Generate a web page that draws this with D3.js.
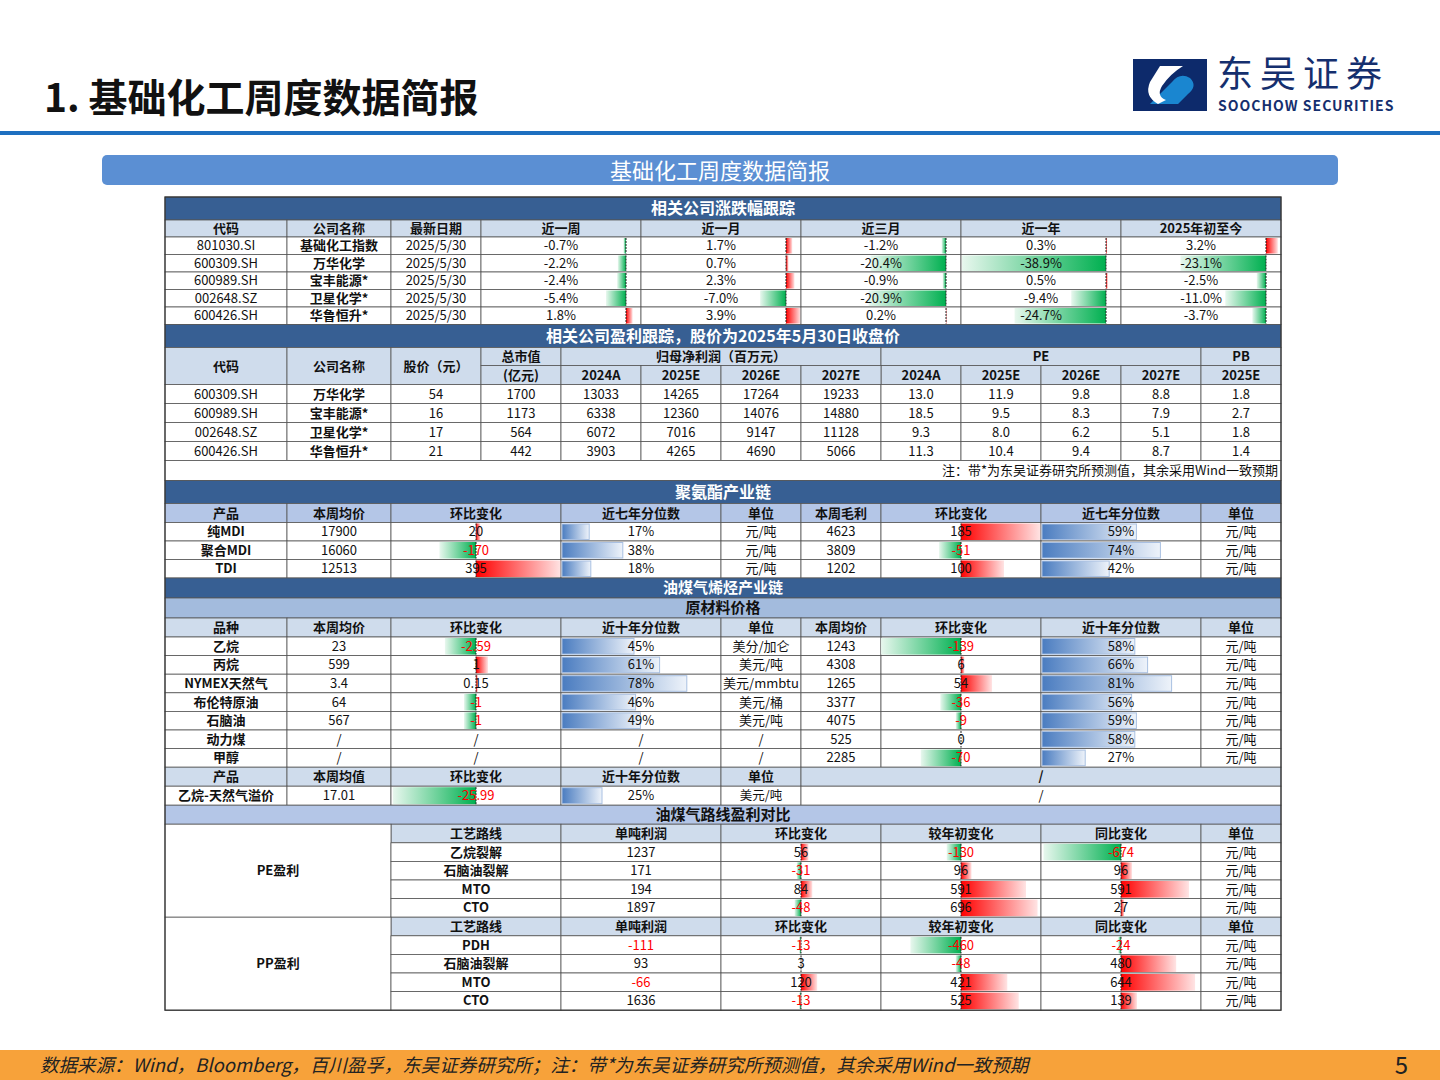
<!DOCTYPE html>
<html><head><meta charset="utf-8">
<script src="https://cdn.jsdelivr.net/npm/d3@7"></script>
<style>body{margin:0;background:#fff}text{font-family:"Noto Sans CJK SC","Noto Sans",sans-serif}</style>
</head><body>
<script>
// ---------- data ----------
var retCodes = ["801030.SI","600309.SH","600989.SH","002648.SZ","600426.SH"];
var retNames = ["基础化工指数","万华化学","宝丰能源*","卫星化学*","华鲁恒升*"];
var retDates = ["2025/5/30","2025/5/30","2025/5/30","2025/5/30","2025/5/30"];
var retPeriods = ["近一周","近一月","近三月","近一年","2025年初至今"];
var returns = [
  [-0.7, 1.7, -1.2, 0.3, 3.2],
  [-2.2, 0.7, -20.4, -38.9, -23.1],
  [-2.4, 2.3, -0.9, 0.5, -2.5],
  [-5.4, -7.0, -20.9, -9.4, -11.0],
  [1.8, 3.9, 0.2, -24.7, -3.7]
];

var valCodes = ["600309.SH","600989.SH","002648.SZ","600426.SH"];
var valNames = ["万华化学","宝丰能源*","卫星化学*","华鲁恒升*"];
var valPrice = [54,16,17,21];
var valMktCap = [1700,1173,564,442];
var years = ["2024A","2025E","2026E","2027E"];
var netProfit = [[13033,14265,17264,19233],[6338,12360,14076,14880],[6072,7016,9147,11128],[3903,4265,4690,5066]];
var peVals = [[13.0,11.9,9.8,8.8],[18.5,9.5,8.3,7.9],[9.3,8.0,6.2,5.1],[11.3,10.4,9.4,8.7]];
var pbVals = [1.8,2.7,1.8,1.4];

var puProducts = ["纯MDI","聚合MDI","TDI"];
var puPrice = [17900,16060,12513];
var puChg = [20,-170,395];
var puPct = [0.17,0.38,0.18];
var puMargin = [4623,3809,1202];
var puMarginChg = [185,-51,100];
var puMarginPct = [0.59,0.74,0.42];

var rawItems = ["乙烷","丙烷","NYMEX天然气","布伦特原油","石脑油","动力煤","甲醇"];
var rawPrice = [23,599,3.4,64,567,null,null];
var rawChg = [-2.59,1,0.15,-1,-1,null,null];
var rawPct = [0.45,0.61,0.78,0.46,0.49,null,null];
var rawUnit = ["美分/加仑","美元/吨","美元/mmbtu","美元/桶","美元/吨","/","/"];
var rawPrice2 = [1243,4308,1265,3377,4075,525,2285];
var rawChg2 = [-139,6,54,-36,-9,0,-70];
var rawPct2 = [0.58,0.66,0.81,0.56,0.59,0.58,0.27];

var spreadRow = {name:"乙烷-天然气溢价", value:"17.01", chg:-25.99, pct:0.25, unit:"美元/吨"};

var peRoutes = ["乙烷裂解","石脑油裂解","MTO","CTO"];
var peProfit = [1237,171,194,1897];
var peChg = [56,-31,84,-48];
var peYtd = [-130,96,591,696];
var peYoy = [-674,96,591,27];
var ppRoutes = ["PDH","石脑油裂解","MTO","CTO"];
var ppProfit = [-111,93,-66,1636];
var ppChg = [-13,3,120,-13];
var ppYtd = [-460,-48,421,525];
var ppYoy = [-24,480,644,139];

// ---------- layout ----------
var X = [165,287,391,481,561,641,721,801,881,961,1041,1121,1201,1281];
var DARK = "#375f93", HEAD = "#cfdcec", HEAD2 = "#b4c6e7", SUB = "#a3bbdd";

var svg = d3.select("body").append("svg").attr("width",1440).attr("height",1080);
var defs = svg.append("defs");
function grad(id, c1, c2, rev) {
  var g = defs.append("linearGradient").attr("id", id)
    .attr("x1", rev ? 1 : 0).attr("x2", rev ? 0 : 1).attr("y1",0).attr("y2",0);
  g.append("stop").attr("offset","0%").attr("stop-color",c1);
  g.append("stop").attr("offset","100%").attr("stop-color",c2);
}
grad("gRed","#ff0000","#ffe4e4",false);
grad("gGreen","#00b050","#e8f7ee",true);
grad("gBlue","#4a7cc0","#eef3fa",false);

var yCur = 197;
function row(h) { var r = [yCur, yCur + h]; yCur += h; return r; }

function cell(c0, c1, r, txt, o) {
  o = o || {};
  svg.append("rect").attr("x",X[c0]).attr("y",r[0]).attr("width",X[c1]-X[c0]).attr("height",r[1]-r[0])
    .attr("fill", o.fill || "#fff").attr("stroke", o.stroke || "#555").attr("stroke-width",0.8);
  if (o.draw) o.draw();
  if (txt !== undefined && txt !== null)
    svg.append("text").attr("x",(X[c0]+X[c1])/2).attr("y",(r[0]+r[1])/2)
      .attr("dy","0.35em").attr("text-anchor","middle")
      .attr("font-size", o.size || 13).attr("font-weight", o.bold ? "bold" : "normal")
      .attr("fill", o.color || "#111").text(txt);
}

// diverging data bar with axis
function barCell(c0, c1, r, v, axisOff, ppu, txt, colorNeg) {
  var axis = axisOff < 0 ? X[c1] + axisOff : (X[c0] + X[c1]) / 2;
  var sx = d3.scaleLinear().domain([-1,1]).range([axis - ppu, axis + ppu]);
  cell(c0, c1, r, txt, {color: (colorNeg && v < 0) ? "#ff0000" : "#111", draw: function () {
    if (v === null) return;
    var x0 = sx(0), x1 = sx(v);
    svg.append("rect").attr("x",Math.min(x0,x1)).attr("y",r[0]+1).attr("width",Math.abs(x1-x0))
      .attr("height",r[1]-r[0]-2).attr("fill", v < 0 ? "url(#gGreen)" : "url(#gRed)");
    svg.append("line").attr("x1",x0).attr("x2",x0).attr("y1",r[0]+1).attr("y2",r[1]-1)
      .attr("stroke","#222").attr("stroke-width",1).attr("stroke-dasharray","2,1");
  }});
}

function pctCell(c0, c1, r, p) {
  var sx = d3.scaleLinear().domain([0,1]).range([X[c0], X[c1]]);
  cell(c0, c1, r, p === null ? "/" : Math.round(p*100) + "%", {draw: function () {
    if (p === null) return;
    svg.append("rect").attr("x",sx(0)+1).attr("y",r[0]+1.5).attr("width",sx(p)-sx(0))
      .attr("height",r[1]-r[0]-3).attr("fill","url(#gBlue)").attr("stroke","#a9c0e2").attr("stroke-width",1);
  }});
}

// ---------- page header ----------
svg.append("text").attr("x",44).attr("y",112).attr("font-size",39).attr("font-weight","bold")
  .attr("fill","#111").text("1. 基础化工周度数据简报");
svg.append("rect").attr("x",0).attr("y",131).attr("width",1440).attr("height",4).attr("fill","#1e6fc0");
// logo
svg.append("rect").attr("x",1133).attr("y",59).attr("width",74).attr("height",52).attr("fill","#0d2a6b");
svg.append("path").attr("d","M1150,104 L1172,82 Q1180,72 1190,78 Q1198,86 1188,94 L1178,104 Z")
  .attr("fill","#1a86d0");
svg.append("path").attr("d","M1160,66 L1183,66 Q1170,74 1162,86 Q1156,96 1166,100 L1158,104 Q1144,96 1150,82 Z")
  .attr("fill","#fff");
svg.append("text").attr("x",1217).attr("y",87).attr("font-size",36).attr("letter-spacing",7)
  .attr("fill","#152f6e").text("东吴证券");
svg.append("text").attr("x",1218).attr("y",111).attr("font-size",14).attr("font-weight","bold")
  .attr("fill","#152f6e").attr("letter-spacing",1).text("SOOCHOW SECURITIES");
// banner
svg.append("rect").attr("x",102).attr("y",155).attr("width",1236).attr("height",30).attr("rx",5).attr("fill","#5b8fd3");
svg.append("text").attr("x",720).attr("y",171).attr("dy","0.36em").attr("text-anchor","middle")
  .attr("font-size",22).attr("fill","#fff").text("基础化工周度数据简报");

// ---------- table 1: returns ----------
var r = row(23);
cell(0,13,r,"相关公司涨跌幅跟踪",{fill:DARK,color:"#fff",bold:true,size:16});
r = row(17);
cell(0,1,r,"代码",{fill:HEAD,bold:true}); cell(1,2,r,"公司名称",{fill:HEAD,bold:true}); cell(2,3,r,"最新日期",{fill:HEAD,bold:true});
retPeriods.forEach(function (p, i) { cell(3+2*i,5+2*i,r,p,{fill:HEAD,bold:true}); });
retCodes.forEach(function (code, i) {
  var rr = row(17.5);
  cell(0,1,rr,code); cell(1,2,rr,retNames[i],{bold:true}); cell(2,3,rr,retDates[i]);
  returns[i].forEach(function (v, j) {
    barCell(3+2*j,5+2*j,rr,v,-15,3.7,v.toFixed(1)+"%",false);
  });
});

// ---------- table 2: valuation ----------
r = row(23);
cell(0,13,r,"相关公司盈利跟踪，股价为2025年5月30日收盘价",{fill:DARK,color:"#fff",bold:true,size:16});
var h1 = row(18), h2 = row(19), hh = [h1[0],h2[1]];
cell(0,1,hh,"代码",{fill:HEAD,bold:true}); cell(1,2,hh,"公司名称",{fill:HEAD,bold:true}); cell(2,3,hh,"股价（元）",{fill:HEAD,bold:true});
cell(3,4,h1,"总市值",{fill:HEAD,bold:true}); cell(3,4,h2,"(亿元)",{fill:HEAD,bold:true});
cell(4,8,h1,"归母净利润（百万元）",{fill:HEAD,bold:true});
cell(8,12,h1,"PE",{fill:HEAD,bold:true}); cell(12,13,h1,"PB",{fill:HEAD,bold:true});
years.forEach(function (y, i) { cell(4+i,5+i,h2,y,{fill:HEAD,bold:true}); cell(8+i,9+i,h2,y,{fill:HEAD,bold:true}); });
cell(12,13,h2,"2025E",{fill:HEAD,bold:true});
valCodes.forEach(function (code, i) {
  var rr = row(19);
  cell(0,1,rr,code); cell(1,2,rr,valNames[i],{bold:true}); cell(2,3,rr,valPrice[i]); cell(3,4,rr,valMktCap[i]);
  netProfit[i].forEach(function (v, j) { cell(4+j,5+j,rr,v); });
  peVals[i].forEach(function (v, j) { cell(8+j,9+j,rr,v.toFixed(1)); });
  cell(12,13,rr,pbVals[i].toFixed(1));
});
r = row(20);
cell(0,13,r,null);
svg.append("text").attr("x",1278).attr("y",(r[0]+r[1])/2).attr("dy","0.36em").attr("text-anchor","end")
  .attr("font-size",13).attr("fill","#111").text("注：带*为东吴证券研究所预测值，其余采用Wind一致预期");

// ---------- table 3: polyurethane ----------
r = row(23);
cell(0,13,r,"聚氨酯产业链",{fill:DARK,color:"#fff",bold:true,size:16});
r = row(19);
[["产品",0,1],["本周均价",1,2],["环比变化",2,4],["近七年分位数",4,6],["单位",6,7],["本周毛利",7,8],["环比变化",8,10],["近七年分位数",10,12],["单位",12,13]]
  .forEach(function (h) { cell(h[1],h[2],r,h[0],{fill:HEAD2,bold:true}); });
puProducts.forEach(function (p, i) {
  var rr = row(18.5);
  cell(0,1,rr,p,{bold:true}); cell(1,2,rr,puPrice[i]);
  barCell(2,4,rr,puChg[i],0,0.215,puChg[i],true);
  pctCell(4,6,rr,puPct[i]); cell(6,7,rr,"元/吨"); cell(7,8,rr,puMargin[i]);
  barCell(8,10,rr,puMarginChg[i],0,0.43,puMarginChg[i],true);
  pctCell(10,12,rr,puMarginPct[i]); cell(12,13,rr,"元/吨");
});

// ---------- table 4: olefins ----------
r = row(20);
cell(0,13,r,"油煤气烯烃产业链",{fill:DARK,color:"#fff",bold:true,size:15});
r = row(20);
cell(0,13,r,"原材料价格",{fill:SUB,bold:true,size:15});
r = row(19);
[["品种",0,1],["本周均价",1,2],["环比变化",2,4],["近十年分位数",4,6],["单位",6,7],["本周均价",7,8],["环比变化",8,10],["近十年分位数",10,12],["单位",12,13]]
  .forEach(function (h) { cell(h[1],h[2],r,h[0],{fill:HEAD,bold:true}); });
rawItems.forEach(function (p, i) {
  var rr = row(18.6);
  cell(0,1,rr,p,{bold:true}); cell(1,2,rr,rawPrice[i] === null ? "/" : rawPrice[i]);
  if (rawChg[i] === null) cell(2,4,rr,"/");
  else barCell(2,4,rr,rawChg[i],0,12,rawChg[i],true);
  pctCell(4,6,rr,rawPct[i]); cell(6,7,rr,rawUnit[i]); cell(7,8,rr,rawPrice2[i]);
  barCell(8,10,rr,rawChg2[i],0,0.575,rawChg2[i],true);
  pctCell(10,12,rr,rawPct2[i]); cell(12,13,rr,"元/吨");
});
r = row(19);
[["产品",0,1],["本周均值",1,2],["环比变化",2,4],["近十年分位数",4,6],["单位",6,7],["/",7,13]]
  .forEach(function (h) { cell(h[1],h[2],r,h[0],{fill:HEAD,bold:true}); });
r = row(19);
cell(0,1,r,spreadRow.name,{bold:true}); cell(1,2,r,spreadRow.value);
barCell(2,4,r,spreadRow.chg,0,3.2,spreadRow.chg,true);
pctCell(4,6,r,spreadRow.pct); cell(6,7,r,spreadRow.unit,{size:12.5}); cell(7,13,r,"/");

// ---------- table 5: route profits ----------
r = row(19);
cell(0,13,r,"油煤气路线盈利对比",{fill:HEAD2,bold:true,size:15});
function profitBlock(label, routes, profit, chg, ytd, yoy) {
  var hr = row(18.6), top = hr[0];
  [["工艺路线",2,4],["单吨利润",4,6],["环比变化",6,8],["较年初变化",8,10],["同比变化",10,12],["单位",12,13]]
    .forEach(function (h) { cell(h[1],h[2],hr,h[0],{fill:HEAD,bold:true}); });
  var rows = routes.map(function () { return row(18.6); });
  cell(0,2,[top,rows[3][1]],label,{bold:true});
  routes.forEach(function (rt, i) {
    var rr = rows[i];
    cell(2,4,rr,rt,{bold:true});
    cell(4,6,rr,profit[i],{color: profit[i] < 0 ? "#ff0000" : "#111"});
    barCell(6,8,rr,chg[i],0,0.135,chg[i],true);
    barCell(8,10,rr,ytd[i],0,0.11,ytd[i],true);
    barCell(10,12,rr,yoy[i],0,0.115,yoy[i],true);
    cell(12,13,rr,"元/吨");
  });
}
profitBlock("PE盈利", peRoutes, peProfit, peChg, peYtd, peYoy);
profitBlock("PP盈利", ppRoutes, ppProfit, ppChg, ppYtd, ppYoy);
// outer border
svg.append("rect").attr("x",X[0]).attr("y",197).attr("width",X[13]-X[0]).attr("height",yCur-197)
  .attr("fill","none").attr("stroke","#333").attr("stroke-width",1.2);

// ---------- footer ----------
svg.append("rect").attr("x",0).attr("y",1050).attr("width",1440).attr("height",30).attr("fill","#f7a23a");
svg.append("text").attr("x",40).attr("y",1072).attr("font-size",18.5).attr("font-style","italic").attr("fill","#222")
  .text("数据来源：Wind，Bloomberg，百川盈孚，东吴证券研究所；注：带*为东吴证券研究所预测值，其余采用Wind一致预期");
svg.append("text").attr("x",1408).attr("y",1074).attr("text-anchor","end").attr("font-size",24)
  .attr("font-family","Liberation Serif, serif").attr("fill","#222").text("5");
</script>
</body></html>
